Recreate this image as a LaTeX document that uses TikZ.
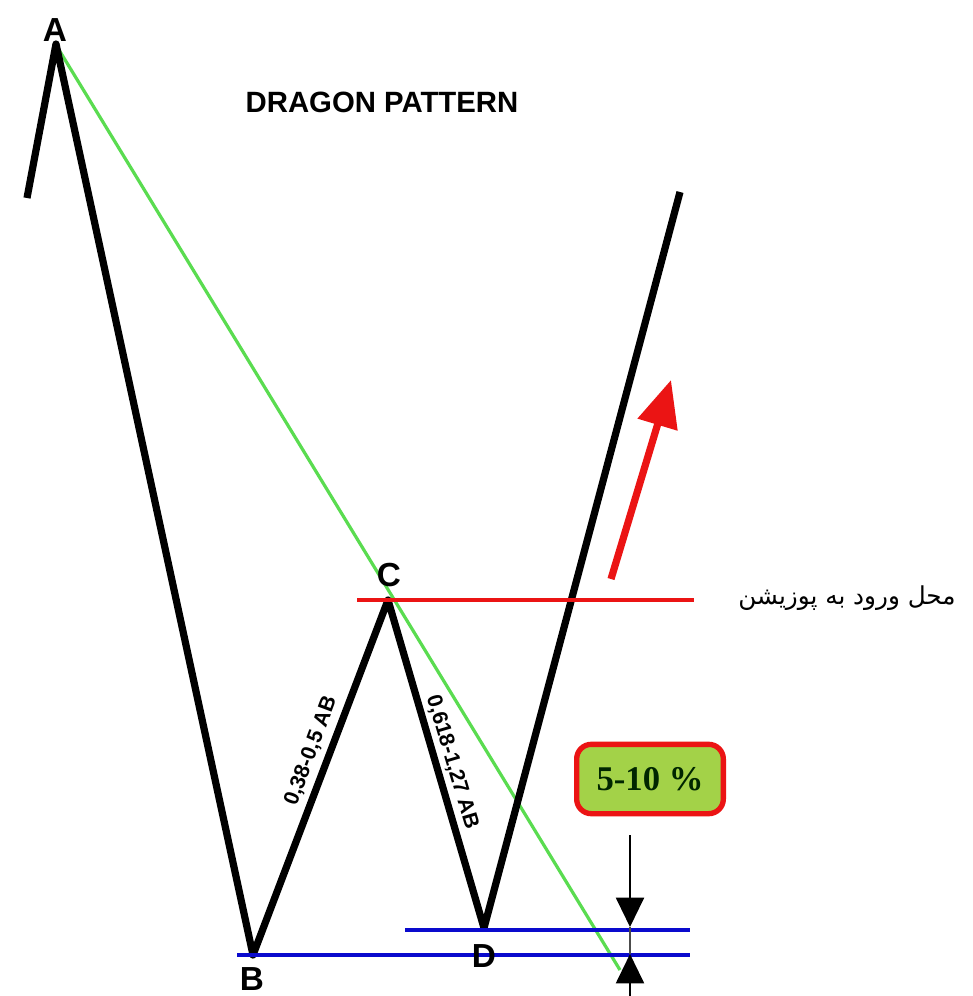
\documentclass[tikz,border=0pt]{standalone}
\usepackage{fontspec}
\setmainfont{Liberation Sans}
\newfontfamily\arabicfont[Script=Arabic]{DejaVu Sans}
\newfontfamily\serifbold{Liberation Serif}
\TeXXeTstate=1
\usetikzlibrary{arrows.meta}
\definecolor{zgreen}{RGB}{90,220,80}
\definecolor{zred}{RGB}{235,20,20}
\definecolor{zblue}{RGB}{10,10,205}
\definecolor{boxfill}{RGB}{163,210,72}
\tikzset{
  wave/.style={line width=5.4pt, line join=round, black},
  letter/.style={font=\bfseries\fontsize{25}{25}\selectfont, inner sep=0pt},
  ratio/.style={font=\bfseries\fontsize{16}{16}\selectfont, inner sep=0pt},
  level/.style={line width=2.5pt, zblue},
  dimarrow/.style={line width=1.6pt, -{Triangle[length=22pt,width=21pt]}},
}
\begin{document}
\begin{tikzpicture}[x=0.75pt,y=-0.75pt]
\useasboundingbox[fill=white] (0,0) rectangle (972,996);
\coordinate (S) at (27,198);
\coordinate (A) at (56,44);
\coordinate (B) at (253,955);
\coordinate (C) at (388,600);
\coordinate (D) at (484,928);
\coordinate (E) at (680,192);
\coordinate (G0) at (56,45);
\coordinate (G1) at (620,970);
% green trend line
\draw[zgreen, line width=2.4pt] (G0) -- (G1);
% zigzag
\draw[wave] (S) -- (A) -- (B) -- (C) -- (D) -- (E);
% red entry line
\coordinate (R0) at (357,600);
\coordinate (R1) at (694,600);
\draw[zred, line width=3.2pt] (R0) -- (R1);
% blue levels
\coordinate (L0) at (237,955);
\coordinate (L1) at (690,955);
\coordinate (U0) at (405,930);
\coordinate (U1) at (690,930);
\draw[level] (L0) -- (L1);
\draw[level] (U0) -- (U1);
% red arrow
\coordinate (RA0) at (611,579);
\coordinate (RA1) at (671,380);
\draw[zred, line width=5.4pt, -{Triangle[length=35pt,width=30pt]}] (RA0) -- (RA1);
% dimension arrows
\coordinate (T0) at (630,835);
\coordinate (T1) at (630,927);
\coordinate (K0) at (630,996);
\coordinate (K1) at (630,954);
\draw[dimarrow] (T0) -- (T1);
\draw[dimarrow] (K0) -- (K1);
\draw[black!70, line width=1.1pt] (T1) -- (K1);
% labels
\node[letter] (lA) at (55,30) {A};
\node[letter] (lB) at (252,979) {B};
\node[letter] (lC) at (389,575) {C};
\node[letter] (lD) at (484,956) {D};
\node[font=\bfseries\fontsize{22}{22}\selectfont, inner sep=0pt] (title) at (382,102) {DRAGON PATTERN};
\node[ratio, rotate=69.5] (bc) at (311,751) {0,38-0,5 AB};
\node[ratio, rotate=-73.4] (cd) at (452,762) {0,618-1,27 AB};
\node[font=\arabicfont\fontsize{18.5}{20}\selectfont, inner sep=0pt] (entry) at (847,598) {\beginR محل ورود به پوزیشن\endR};
\node[draw=zred, line width=4pt, fill=boxfill, rounded corners=11pt, minimum width=110pt, minimum height=52pt, font=\serifbold\bfseries\fontsize{26}{26}\selectfont, text=black!85!green] (pct) at (650,779) {5-10 \%};
\end{tikzpicture}
\end{document}
